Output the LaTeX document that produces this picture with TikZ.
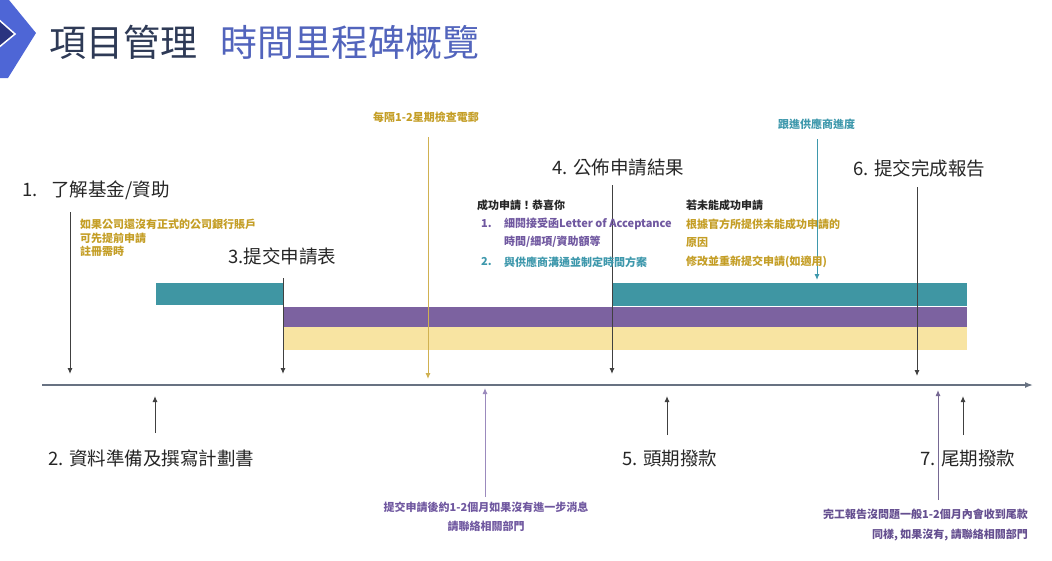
\documentclass[tikz,border=0pt]{standalone}
\usepackage{fontspec}
\setmainfont{Noto Sans CJK TC}
\usetikzlibrary{arrows.meta}

\definecolor{logoblue}{RGB}{78,102,214}
\definecolor{logonavy}{RGB}{42,52,128}
\definecolor{titlenavy}{RGB}{46,58,86}
\definecolor{titleblue}{RGB}{82,100,188}
\definecolor{barteal}{RGB}{63,150,163}
\definecolor{barpurple}{RGB}{124,98,160}
\definecolor{baryellow}{RGB}{248,228,162}
\definecolor{goldtext}{RGB}{196,158,38}
\definecolor{purpletext}{RGB}{112,88,160}
\definecolor{tealtext}{RGB}{62,152,172}
\definecolor{axisgray}{RGB}{104,114,130}

\tikzset{
    steplabel/.style={anchor=west, inner sep=0pt, text=black!85, font=\fontsize{18.5}{20}\selectfont},
    notetext/.style={anchor=west, inner sep=0pt, font=\fontsize{11}{14}\selectfont\bfseries},
    downarr/.style={-{Latex[length=6pt,width=5pt]}, draw=black!75, line width=1pt},
    uparr/.style={-{Latex[length=6pt,width=5pt]}, draw=black!75, line width=1pt},
}

\begin{document}
\begin{tikzpicture}[x=1pt, y=-1pt]
    \useasboundingbox (0,0) rectangle (1052,560);

    % logo and title
    \fill[logoblue] (0,0) -- (9,0) -- (36,33) -- (8,78) -- (0,78) -- cycle;
    \fill[logonavy, draw=white, line width=1.5pt] (-2,19) -- (15,34) -- (-2,48) -- cycle;
    \node[anchor=west, inner sep=0pt, text=titlenavy, font=\fontsize{37}{40}\selectfont] (title) at (49,42) {項目管理};
    \node[anchor=west, inner sep=0pt, text=titleblue, font=\fontsize{37}{40}\selectfont] (subtitle) at (220,42) {時間里程碑概覽};

    % bars
    \fill[barteal] (156,283) rectangle (283,305);
    \fill[barteal] (612,283) rectangle (967,306);
    \fill[barpurple] (283,307) rectangle (967,327);
    \fill[baryellow] (283,327) rectangle (967,350);

    % time axis
    \coordinate (axstart) at (42,385);
    \coordinate (axend) at (1033,385);
    \draw[-{Latex[length=8pt,width=6pt]}, draw=axisgray, line width=1.5pt] (axstart) -- (axend);

    % milestones above the axis
    \node[steplabel] (s1) at (22,190) {1.\hspace{0.75em}了解基金/資助};
    \node[steplabel] (s3) at (228,256) {3.提交申請表};
    \node[steplabel] (s4) at (552,168) {4. 公佈申請結果};
    \node[steplabel] (s6) at (853,168) {6. 提交完成報告};

    \coordinate (t1) at (70,212);  \coordinate (b1) at (70,374);
    \coordinate (t3) at (283,278); \coordinate (b3) at (283,374);
    \coordinate (t4) at (612,185); \coordinate (b4) at (612,374);
    \coordinate (t6) at (917,187); \coordinate (b6) at (917,376);
    \draw[downarr] (t1) -- (b1);
    \draw[downarr] (t3) -- (b3);
    \draw[downarr] (t4) -- (b4);
    \draw[downarr] (t6) -- (b6);

    % remarks above
    \node[notetext, text=goldtext] (mail) at (373,117) {每隔1-2星期檢查電郵};
    \coordinate (tmail) at (428,137); \coordinate (bmail) at (428,379);
    \draw[-{Latex[length=6pt,width=5pt]}, draw=goldtext!80, line width=1pt] (tmail) -- (bmail);

    \node[notetext, text=tealtext] (follow) at (778,124) {跟進供應商進度};
    \coordinate (tfollow) at (817,139); \coordinate (bfollow) at (817,280);
    \draw[-{Latex[length=6pt,width=5pt]}, draw=tealtext, line width=1pt] (tfollow) -- (bfollow);

    \node[notetext, text=goldtext, align=left, anchor=north west, font=\fontsize{11}{13.5}\selectfont\bfseries] (bank) at (80,219)
        {如果公司還沒有正式的公司銀行賬戶\\可先提前申請\\註冊需時};

    \node[notetext, text=black!85] (ok) at (477,205) {成功申請！恭喜你};
    \node[notetext, text=purpletext] (oknum1) at (481,224) {1.};
    \node[notetext, text=purpletext] (ok1) at (504,224) {細閱接受函Letter of Acceptance};
    \node[notetext, text=purpletext] (ok1b) at (504,242) {時間/細項/資助額等};
    \node[notetext, text=tealtext] (oknum2) at (481,262) {2.};
    \node[notetext, text=tealtext] (ok2) at (504,262) {與供應商溝通並制定時間方案};

    \node[notetext, text=black!85] (fail) at (686,205) {若未能成功申請};
    \node[notetext, text=goldtext] (fail1) at (686,224) {根據官方所提供未能成功申請的};
    \node[notetext, text=goldtext] (fail2) at (686,242) {原因};
    \node[notetext, text=goldtext] (fail3) at (686,262) {修改並重新提交申請(如適用)};

    % milestones below the axis
    \node[steplabel] (s2) at (48,458) {2. 資料準備及撰寫計劃書};
    \node[steplabel] (s5) at (622,458) {5. 頭期撥款};
    \node[steplabel] (s7) at (920,458) {7. 尾期撥款};

    \coordinate (f2) at (155,433); \coordinate (a2) at (155,396);
    \coordinate (f5) at (667,435); \coordinate (a5) at (667,396);
    \coordinate (f7) at (963,435); \coordinate (a7) at (963,396);
    \draw[uparr] (f2) -- (a2);
    \draw[uparr] (f5) -- (a5);
    \draw[uparr] (f7) -- (a7);

    % remarks below
    \node[notetext, text=purpletext, align=center, anchor=center, font=\fontsize{11}{19}\selectfont\bfseries] (wait) at (486,517)
        {提交申請後約1-2個月如果沒有進一步消息\\請聯絡相關部門};
    \coordinate (fwait) at (485,497); \coordinate (await) at (485,388);
    \draw[-{Latex[length=6pt,width=5pt]}, draw=purpletext!70, line width=1pt] (fwait) -- (await);

    \node[notetext, text=purpletext!90!black, align=right, anchor=east, font=\fontsize{11}{20}\selectfont\bfseries] (final) at (1028,525)
        {完工報告沒問題一般1-2個月內會收到尾款\\同樣, 如果沒有, 請聯絡相關部門};
    \coordinate (ffinal) at (938,500); \coordinate (afinal) at (938,390);
    \draw[-{Latex[length=6pt,width=5pt]}, draw=purpletext!60!gray, line width=1pt] (ffinal) -- (afinal);
\end{tikzpicture}
\end{document}
